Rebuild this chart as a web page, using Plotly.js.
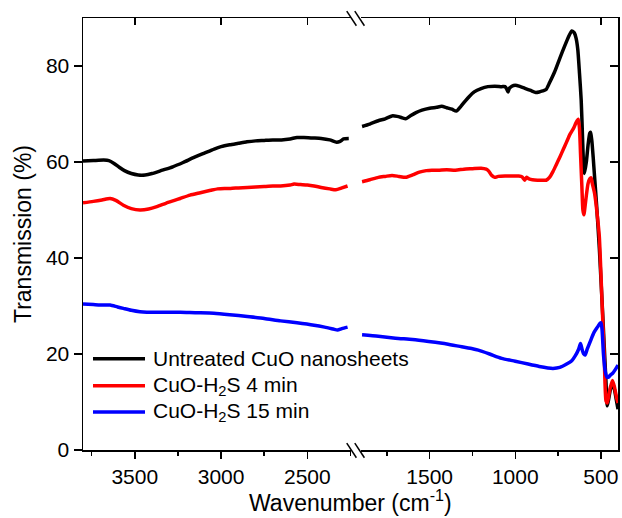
<!DOCTYPE html>
<html>
<head>
<meta charset="utf-8">
<script src="https://cdn.plot.ly/plotly-3.0.1.min.js"></script>
<style>html,body{margin:0;padding:0;background:#fff;}#chart{width:622px;height:518px;}</style>
</head>
<body>
<div id="chart"></div>
<script>
// ---- Data ----
const seriesNames = ["Untreated CuO nanosheets", "CuO-H<sub>2</sub>S 4 min", "CuO-H<sub>2</sub>S 15 min"];
const seriesColors = ["#000000", "#ff0000", "#0000ff"];

// Untreated CuO, high-wavenumber segment
const blackHighWn = [3800,3740,3680,3650,3620,3590,3560,3520,3480,3440,3400,3340,3280,3220,3160,3100,3040,3000,2950,2900,2850,2800,2750,2700,2650,2600,2560,2520,2470,2420,2370,2330,2310,2290,2260];
const blackHighT  = [60.2,60.3,60.4,60.3,59.7,58.9,58.2,57.6,57.3,57.3,57.6,58.3,59.0,59.9,60.9,61.8,62.7,63.2,63.6,63.9,64.2,64.4,64.5,64.6,64.6,64.8,65.1,65.1,65.0,64.9,64.6,64.1,64.3,64.8,64.9];
// Untreated CuO, low-wavenumber segment
const blackLowWn = [1895,1850,1800,1760,1720,1690,1660,1640,1610,1580,1545,1500,1460,1430,1400,1370,1345,1320,1290,1270,1240,1200,1160,1120,1080,1060,1050,1042,1035,1020,1000,970,940,910,880,860,840,820,800,770,740,710,690,670,655,645,635,625,615,607,600,596,585,575,565,560,553,545,537,525,509,489,470,463,455,445,432,420,410,400];
const blackLowT  = [67.4,67.9,68.6,69.0,69.6,69.5,69.2,69.0,69.7,70.3,70.8,71.2,71.4,71.6,71.3,71.0,70.6,71.5,72.8,73.6,74.6,75.3,75.7,75.8,75.7,75.7,75.2,74.6,75.3,75.8,76.0,75.7,75.3,74.9,74.5,74.6,74.8,75.1,76.5,78.8,81.6,84.3,86.0,87.3,86.9,85.8,83.5,78.5,72.9,65.0,58.5,57.6,60.0,63.5,66.0,66.2,64.5,61.0,57.0,51.0,42.0,28.0,14.0,9.2,10.5,12.5,14.0,12.5,10.5,8.5];

// CuO-H2S 4 min
const redHighWn = [3800,3740,3690,3643,3610,3566,3520,3470,3420,3372,3320,3270,3237,3180,3120,3060,3020,2980,2945,2900,2848,2800,2750,2700,2655,2600,2577,2540,2500,2461,2420,2370,2335,2300,2267];
const redHighT  = [51.5,51.8,52.1,52.4,52.0,51.0,50.3,50.0,50.2,50.7,51.4,52.0,52.4,53.1,53.6,54.1,54.4,54.5,54.5,54.6,54.7,54.8,54.9,55.0,55.0,55.2,55.4,55.3,55.2,55.0,54.7,54.4,54.2,54.6,55.0];
const redLowWn = [1895,1850,1800,1760,1720,1680,1640,1600,1560,1520,1487,1450,1400,1350,1300,1250,1200,1170,1155,1140,1120,1100,1060,1040,1000,980,960,945,935,920,900,870,840,820,800,780,760,740,720,700,680,660,645,632,625,619,611,605,599,595,585,575,565,557,550,537,518,509,500,489,480,470,463,455,445,432,420,410,400];
const redLowT  = [55.9,56.3,56.8,57.0,57.2,57.0,56.8,57.3,57.9,58.2,58.3,58.3,58.4,58.3,58.5,58.6,58.7,58.5,58.1,57.3,56.8,57.0,57.1,57.1,57.1,57.1,56.9,56.2,56.8,56.5,56.3,56.2,56.2,56.2,56.8,58.0,59.5,61.0,62.6,64.2,65.8,67.0,68.2,68.9,67.0,61.8,54.9,50.0,49.0,50.0,53.0,55.5,56.5,56.7,55.5,53.5,47.9,44.4,37.0,27.0,19.0,10.2,9.8,11.2,13.0,14.5,13.0,11.2,9.8];

// CuO-H2S 15 min
const blueHighWn = [3800,3740,3680,3643,3600,3566,3520,3470,3430,3350,3300,3236,3150,3042,2950,2848,2750,2655,2560,2461,2400,2350,2325,2300,2267];
const blueHighT  = [30.4,30.3,30.2,30.2,29.8,29.5,29.1,28.8,28.7,28.7,28.7,28.7,28.6,28.5,28.2,27.8,27.4,26.9,26.5,26.0,25.6,25.2,25.0,25.3,25.6];
const blueLowWn = [1895,1800,1700,1600,1506,1400,1313,1250,1216,1150,1080,1000,925,860,810,780,740,700,670,650,630,619,610,600,592,580,560,540,520,505,499,493,485,475,465,455,445,431,415,400];
const blueLowT  = [24.0,23.7,23.3,23.0,22.6,22.1,21.5,21.1,20.8,20.0,19.1,18.5,17.9,17.4,17.1,17.0,17.2,17.9,18.6,19.6,21.0,22.2,21.0,20.0,19.8,21.0,22.8,24.5,25.6,26.4,26.5,25.0,20.0,16.5,15.2,15.2,15.6,16.0,16.8,17.7];

// Axis settings
const yTickVals = [0, 20, 40, 60, 80];
const leftTickVals = [3500, 3000, 2500];
const rightTickVals = [1500, 1000, 500];
const leftRange = [3800, 2250];
const rightRange = [1900, 400];
const yRange = [0, 90];

// ---- Build traces ----
const highWn = [blackHighWn, redHighWn, blueHighWn];
const highT = [blackHighT, redHighT, blueHighT];
const lowWn = [blackLowWn, redLowWn, blueLowWn];
const lowT = [blackLowT, redLowT, blueLowT];

const traces = [];
for (let i = 0; i < 3; i++) {
  traces.push({
    x: highWn[i], y: highT[i], xaxis: 'x', yaxis: 'y', type: 'scatter', mode: 'lines',
    name: seriesNames[i], showlegend: false, hoverinfo: 'skip',
    line: {color: seriesColors[i], width: 3.5, shape: 'spline', smoothing: 0.6}
  });
  traces.push({
    x: lowWn[i], y: lowT[i], xaxis: 'x2', yaxis: 'y', type: 'scatter', mode: 'lines',
    name: seriesNames[i], showlegend: false, hoverinfo: 'skip',
    line: {color: seriesColors[i], width: 3.5, shape: 'spline', smoothing: 0.6}
  });
}
// placeholder traces so the mirror (top / right) frame axes are drawn
[['x3', 'y'], ['x4', 'y'], ['x2', 'y2']].forEach(function (p) {
  traces.push({x: [null], y: [null], xaxis: p[0], yaxis: p[1], type: 'scatter', mode: 'lines',
    showlegend: false, hoverinfo: 'skip'});
});

const fontFam = '"Liberation Sans", Arial, sans-serif';
const tickFont = {family: fontFam, size: 21, color: '#000'};
const titleSize = 23;
const legendSize = 21;
const baseX = {
  showgrid: false, zeroline: false, showline: true, linecolor: '#000', linewidth: 1.5,
  ticks: 'outside', ticklen: 7, tickwidth: 1.5, tickcolor: '#000',
  tickfont: tickFont, autorange: false, fixedrange: true
};

// hand-made legend (line sample + text) in paper coordinates
const legendRowsY = [0.211, 0.149, 0.088];
const legendShapes = [], legendAnn = [];
for (let i = 0; i < 3; i++) {
  legendShapes.push({type: 'line', xref: 'paper', yref: 'paper', x0: 0.0187, x1: 0.1159,
    y0: legendRowsY[i], y1: legendRowsY[i], line: {color: seriesColors[i], width: 3.5}});
  legendAnn.push({text: seriesNames[i], xref: 'paper', yref: 'paper', x: 0.1271, y: legendRowsY[i],
    xanchor: 'left', yanchor: 'middle', showarrow: false,
    font: {family: fontFam, size: legendSize, color: '#000'}});
}

const layout = {
  width: 622, height: 518,
  margin: {l: 83, r: 4, t: 18, b: 68},
  paper_bgcolor: '#fff', plot_bgcolor: '#fff',
  font: {family: fontFam, color: '#000'},
  showlegend: false,
  xaxis: Object.assign({}, baseX, {
    domain: [0, 0.5], range: leftRange, anchor: 'y',
    tickmode: 'array', tickvals: leftTickVals,
    minor: {tickmode: 'linear', tick0: 0, dtick: 250, ticks: 'outside', ticklen: 4, tickwidth: 1.5, tickcolor: '#000'}
  }),
  xaxis2: Object.assign({}, baseX, {
    domain: [0.52, 1], range: rightRange, anchor: 'y',
    tickmode: 'array', tickvals: rightTickVals,
    minor: {tickmode: 'linear', tick0: 0, dtick: 250, ticks: 'outside', ticklen: 4, tickwidth: 1.5, tickcolor: '#000'}
  }),
  xaxis3: Object.assign({}, baseX, {
    overlaying: 'x', side: 'top', anchor: 'y', range: leftRange,
    tickmode: 'array', tickvals: leftTickVals, ticks: 'inside', showticklabels: false
  }),
  xaxis4: Object.assign({}, baseX, {
    overlaying: 'x2', side: 'top', anchor: 'y', range: rightRange,
    tickmode: 'array', tickvals: rightTickVals, ticks: 'inside', showticklabels: false
  }),
  yaxis: {
    domain: [0, 1], range: yRange, anchor: 'x', autorange: false, fixedrange: true,
    showgrid: false, zeroline: false, showline: true, linecolor: '#000', linewidth: 1.5,
    ticks: 'outside', ticklen: 8, tickwidth: 1.5, tickcolor: '#000',
    tickmode: 'array', tickvals: yTickVals, tickfont: tickFont,
    title: {text: 'Transmission (%)', font: {family: fontFam, size: titleSize, color: '#000'}, standoff: 8}
  },
  yaxis2: {
    overlaying: 'y', side: 'right', anchor: 'x2', range: yRange, autorange: false, fixedrange: true,
    showgrid: false, zeroline: false, showline: true, linecolor: '#000', linewidth: 1.5,
    ticks: 'inside', ticklen: 8, tickwidth: 1.5, tickcolor: '#000',
    tickmode: 'array', tickvals: yTickVals, showticklabels: false
  },
  annotations: [{
    text: 'Wavenumber (cm<sup>-1</sup>)', xref: 'paper', yref: 'paper', x: 0.5, y: -0.117,
    xanchor: 'center', yanchor: 'middle', showarrow: false,
    font: {family: fontFam, size: titleSize, color: '#000'}
  }].concat(legendAnn),
  shapes: [
    // axis-break marks, top and bottom
    {type: 'line', xref: 'paper', yref: 'paper', x0: 0.493, y0: 1.016, x1: 0.511, y1: 0.982, line: {color: '#000', width: 1.5}},
    {type: 'line', xref: 'paper', yref: 'paper', x0: 0.508, y0: 1.016, x1: 0.526, y1: 0.982, line: {color: '#000', width: 1.5}},
    {type: 'line', xref: 'paper', yref: 'paper', x0: 0.493, y0: 0.016, x1: 0.511, y1: -0.018, line: {color: '#000', width: 1.5}},
    {type: 'line', xref: 'paper', yref: 'paper', x0: 0.508, y0: 0.016, x1: 0.526, y1: -0.018, line: {color: '#000', width: 1.5}}
  ].concat(legendShapes)
};

Plotly.newPlot('chart', traces, layout, {displayModeBar: false, staticPlot: true});
</script>
</body>
</html>
